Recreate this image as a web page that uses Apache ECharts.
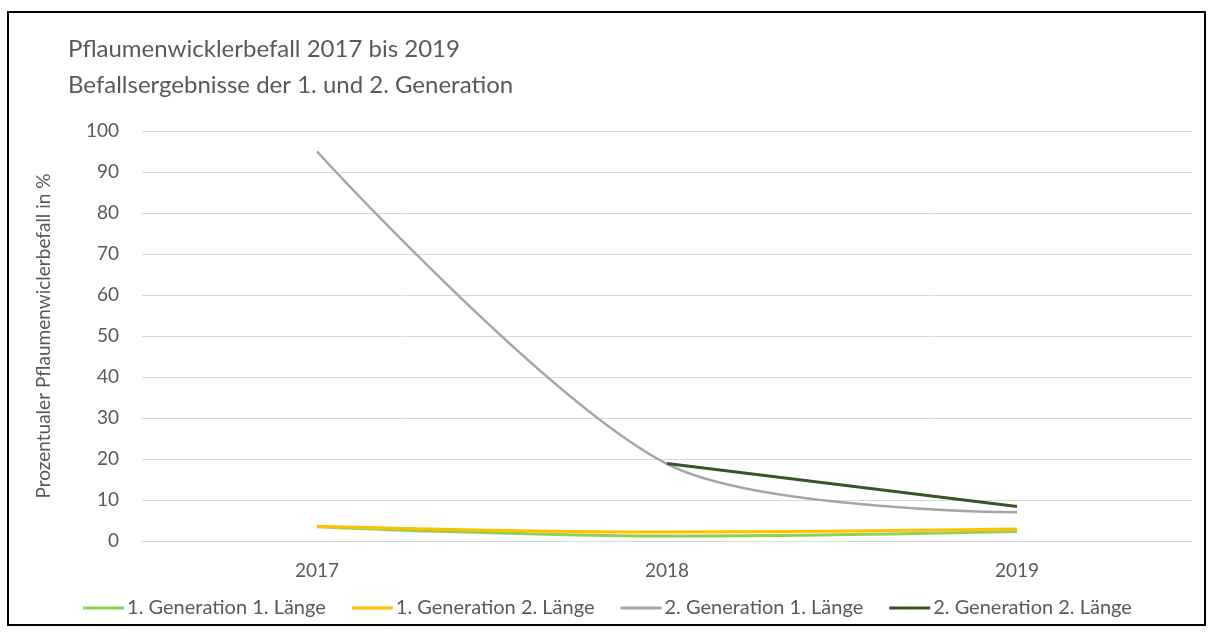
<!DOCTYPE html>
<html>
<head>
<meta charset="utf-8">
<script src="https://cdn.jsdelivr.net/npm/echarts@6/dist/echarts.min.js"></script>
<style>
    html, body { margin: 0; padding: 0; background: #fff; }
    #frame {
        position: absolute; left: 7px; top: 11px;
        width: 1199px; height: 615px;
        border: 2px solid #000; box-sizing: border-box;
    }
    #chart { position: absolute; left: 0; top: 0; width: 1215px; height: 633px; }
</style>
</head>
<body>
<div id="chart"></div>
<div id="frame"></div>
<script>
// Kategorien (Jahre)
let years = ['2017', '2018', '2019'];

// Befall in % je Generation / Länge
let gen1Len1 = [3.5, 1.2, 2.3];
let gen1Len2 = [3.6, 2.2, 2.9];
let gen2Len1 = [95, 18.8, 7];
let gen2Len2 = [null, 18.9, 8.4];

let seriesNames = ['1. Generation 1. Länge', '1. Generation 2. Länge', '2. Generation 1. Länge', '2. Generation 2. Länge'];
let seriesColors = ['#92D050', '#FFC000', '#A5A5A5', '#375623'];

window.onload = function () {
    let chart = echarts.init(document.getElementById('chart'));
    let font = 'Lato, "Open Sans", sans-serif';

    let option = {
        animation: false,
        color: seriesColors,
        title: {
            text: 'Pflaumenwicklerbefall 2017 bis 2019\nBefallsergebnisse der 1. und 2. Generation',
            left: 63, top: 26,
            textStyle: { fontFamily: font, fontSize: 24, fontWeight: 'normal', color: '#595959', lineHeight: 36 }
        },
        legend: {
            top: 593, left: 'center',
            icon: 'rect', itemWidth: 41, itemHeight: 3, itemGap: 26,
            textStyle: { fontFamily: font, fontSize: 20, color: '#595959', padding: [0, 0, 0, -2] },
            data: seriesNames
        },
        grid: { left: 142, right: 23, top: 131, bottom: 92 },
        xAxis: {
            type: 'category',
            data: years,
            boundaryGap: true,
            axisLine: { lineStyle: { color: '#D9D9D9', width: 1 } },
            axisTick: { show: false },
            axisLabel: { fontFamily: font, fontSize: 19, color: '#595959', margin: 20 }
        },
        yAxis: {
            type: 'value',
            min: 0, max: 100, interval: 10,
            name: 'Prozentualer Pflaumenwiclerbefall in %',
            nameLocation: 'middle', nameGap: 89, nameRotate: 90,
            nameTextStyle: { fontFamily: font, fontSize: 19, color: '#595959' },
            axisLine: { show: false },
            axisTick: { show: false },
            axisLabel: { fontFamily: font, fontSize: 19, color: '#595959', margin: 23 },
            splitLine: { lineStyle: { color: '#D9D9D9', width: 1 } }
        },
        series: [
            { name: seriesNames[0], type: 'line', data: gen1Len1, smooth: 0.4, showSymbol: false, lineStyle: { width: 3 } },
            { name: seriesNames[1], type: 'line', data: gen1Len2, smooth: 0.4, showSymbol: false, lineStyle: { width: 3 } },
            { name: seriesNames[2], type: 'line', data: gen2Len1, smooth: 0.3, showSymbol: false, lineStyle: { width: 2.5 } },
            { name: seriesNames[3], type: 'line', data: gen2Len2, smooth: false, showSymbol: false, lineStyle: { width: 3 } }
        ]
    };

    chart.setOption(option);
};
</script>
</body>
</html>
